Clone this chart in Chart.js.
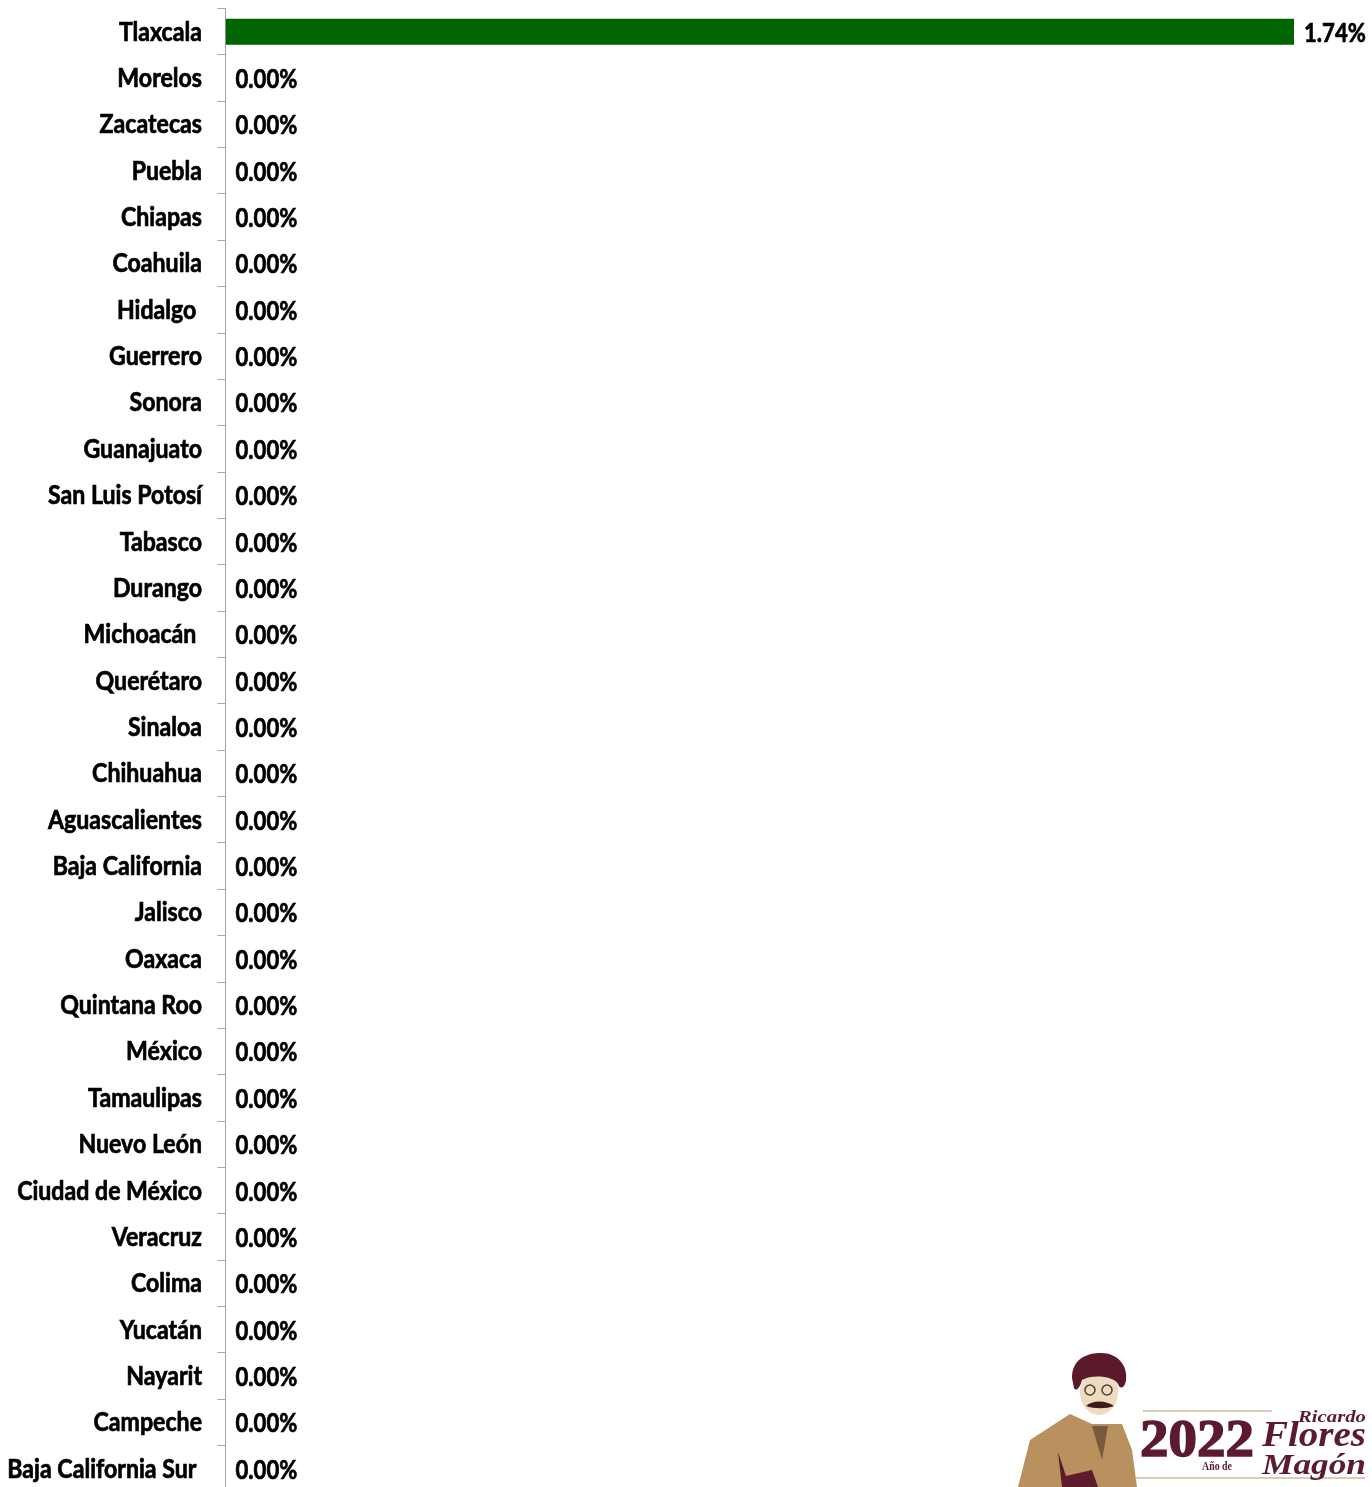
<!DOCTYPE html>
<html>
<head>
<meta charset="utf-8">
<script src="https://cdn.jsdelivr.net/npm/chart.js@4"></script>
<style>
  html, body { margin: 0; padding: 0; background: #fff; overflow: hidden; height: 1487px; }
  #chart { position: absolute; left: 0; top: 0; }
  #logo { position: absolute; left: 1000px; top: 1340px; }
</style>
</head>
<body>
<canvas id="chart" width="1372" height="1500"></canvas>

<svg id="logo" width="372" height="147" viewBox="0 0 372 147">
  <path d="M18 147 L30 100 L70 74 L92 84 L122 84 L132 110 L137 147 Z" fill="#b8915f"/>
  <path d="M58 112 L66 136 L92 130 L98 147 L62 147 Z" fill="#5e1b2c"/>
  <path d="M92 86 L102 120 L108 86 Z" fill="#7a5a3c"/>
  <ellipse cx="99" cy="52" rx="19" ry="23" fill="#ecdcc0"/>
  <path d="M72 38 C72 18 88 13 101 13 C118 13 128 26 126 40 C125 48 120 50 118 44 C114 36 92 34 82 40 C80 48 76 52 74 48 Z" fill="#5a1a2a"/>
  <path d="M86 66 C92 60 106 60 114 66 C106 69 94 69 86 66 Z" fill="#3e1a1c"/>
  <circle cx="90" cy="50" r="5" fill="none" stroke="#5a3a30" stroke-width="1.5"/>
  <circle cx="107" cy="50" r="5" fill="none" stroke="#5a3a30" stroke-width="1.5"/>
  <line x1="143" y1="71" x2="272" y2="71" stroke="#cdbb98" stroke-width="1.5"/>
  <line x1="135" y1="138" x2="365" y2="138" stroke="#cdbb98" stroke-width="1.5"/>
  <text x="140" y="116" font-family="Liberation Serif" font-weight="bold" font-size="52" fill="#5c1a2e" stroke="#5c1a2e" stroke-width="1.5" textLength="114" lengthAdjust="spacingAndGlyphs">2022</text>
  <text x="298" y="82" font-family="Liberation Serif" font-style="italic" font-weight="bold" font-size="17" fill="#5c1a2e" textLength="68" lengthAdjust="spacingAndGlyphs">Ricardo</text>
  <text x="262" y="106" font-family="Liberation Serif" font-style="italic" font-weight="bold" font-size="36" fill="#5c1a2e" textLength="104" lengthAdjust="spacingAndGlyphs">Flores</text>
  <text x="202" y="130" font-family="Liberation Serif" font-weight="bold" font-size="13" fill="#5c1a2e" textLength="30" lengthAdjust="spacingAndGlyphs">Año de</text>
  <text x="262" y="134" font-family="Liberation Serif" font-style="italic" font-weight="bold" font-size="30" fill="#5c1a2e" textLength="104" lengthAdjust="spacingAndGlyphs">Magón</text>
</svg>

<script>
const states = [
  "Tlaxcala", "Morelos", "Zacatecas", "Puebla", "Chiapas", "Coahuila", "Hidalgo ",
  "Guerrero", "Sonora", "Guanajuato", "San Luis Potosí", "Tabasco", "Durango",
  "Michoacán ", "Querétaro", "Sinaloa", "Chihuahua", "Aguascalientes",
  "Baja California", "Jalisco", "Oaxaca", "Quintana Roo", "México", "Tamaulipas",
  "Nuevo León", "Ciudad de México", "Veracruz", "Colima", "Yucatán", "Nayarit",
  "Campeche", "Baja California Sur "
];
const percentages = [
  1.74, 0, 0, 0, 0, 0, 0, 0, 0, 0, 0, 0, 0, 0, 0, 0,
  0, 0, 0, 0, 0, 0, 0, 0, 0, 0, 0, 0, 0, 0, 0, 0
];

const labelFont = "bold 26px Lato, sans-serif";

// the original labels are condensed and heavy, no such font is installed
function drawNarrow(ctx, text, x, y, narrow) {
  ctx.save();
  ctx.translate(x, y);
  ctx.scale(narrow, 1);
  ctx.fillText(text, 0, 0);
  ctx.strokeText(text, 0, 0);
  ctx.restore();
}

// category names and value labels
const barLabels = {
  id: "barLabels",
  afterDatasetsDraw(chart) {
    const ctx = chart.ctx;
    const yAxis = chart.scales.y;
    ctx.save();
    ctx.font = labelFont;
    ctx.fillStyle = "#000";
    ctx.strokeStyle = "#000";
    ctx.lineWidth = 0.7;
    ctx.textBaseline = "middle";
    ctx.textAlign = "right";
    states.forEach((name, i) => {
      drawNarrow(ctx, name, 202, yAxis.getPixelForTick(i) + 0.5, 0.89);
    });
    ctx.textAlign = "left";
    chart.getDatasetMeta(0).data.forEach((bar, i) => {
      drawNarrow(ctx, percentages[i].toFixed(2) + "%", bar.x + 10, bar.y + 1.5, 0.85);
    });
    ctx.restore();
  }
};

new Chart(document.getElementById("chart").getContext("2d"), {
  type: "bar",
  data: {
    labels: states,
    datasets: [
      {
        data: percentages,
        backgroundColor: "#006400",
        categoryPercentage: 1,
        barPercentage: 0.56
      }
    ]
  },
  options: {
    indexAxis: "y",
    responsive: false,
    animation: false,
    layout: { padding: { top: 8.5, bottom: 8, left: 0, right: 78 } },
    plugins: { legend: { display: false }, tooltip: { enabled: false } },
    scales: {
      x: { display: false, min: 0, max: 1.74 },
      y: {
        afterFit(scale) {
          scale.width = 225.5;
          scale.paddingTop = 0;
          scale.paddingBottom = 0;
        },
        border: { color: "#a6a6a6", width: 1 },
        grid: { drawOnChartArea: false, color: "#a6a6a6", tickLength: 8, offset: true },
        ticks: { autoSkip: false, display: false }
      }
    }
  },
  plugins: [barLabels]
});
</script>
</body>
</html>
